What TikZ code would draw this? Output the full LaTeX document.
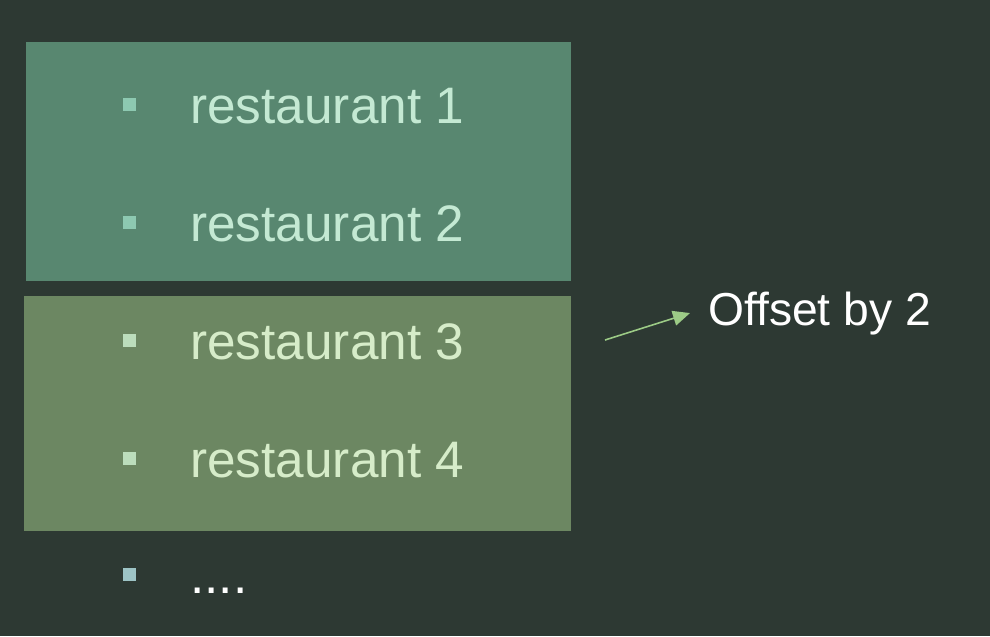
\documentclass[tikz,border=0pt]{standalone}
\usepackage{fontspec}
\setmainfont{Liberation Sans}
\usepackage{tikz}
\usetikzlibrary{arrows.meta, positioning, calc}

\definecolor{bgdark}{HTML}{2D3933}
\definecolor{topbox}{HTML}{588770}
\definecolor{lowbox}{HTML}{6C8762}
\definecolor{topbullet}{HTML}{8DC9B1}
\definecolor{toptext}{HTML}{C4E9D3}
\definecolor{lowbullet}{HTML}{BCDDBC}
\definecolor{lowtext}{HTML}{D6ECC9}
\definecolor{lastbullet}{HTML}{9DC4C6}
\definecolor{arrowgreen}{HTML}{9CCB86}

\begin{document}
\begin{tikzpicture}[
        x=0.02cm, y=-0.02cm,
        item/.style={anchor=base west, inner sep=0pt, font=\fontsize{29.2}{35}\selectfont},
        bullet/.style={rectangle, minimum size=0.26cm, inner sep=0pt},
        note/.style={anchor=base west, inner xsep=0.36cm, inner ysep=0pt, text=white, font=\fontsize{26.3}{31}\selectfont},
        arrow/.style={draw=arrowgreen, line width=0.9pt, -{Triangle[length=0.34cm, width=0.3cm]}}
    ]
        % Background
        \fill[bgdark] (0,0) rectangle (990,636);

        % Boxes
        \fill[topbox] (26,42) rectangle (571,281);
        \fill[lowbox] (24,296) rectangle (571,531);

        % Items
        \foreach \i/\yy/\bcol/\tcol in {1/123/topbullet/toptext, 2/241/topbullet/toptext,
                                        3/359/lowbullet/lowtext, 4/477/lowbullet/lowtext} {
            \node[bullet, fill=\bcol] (b\i) at (129,\yy-19) {};
            \node[item, text=\tcol] (r\i) at (190,\yy) {restaurant \i};
        }
        \node[bullet, fill=lastbullet] (b5) at (129,574) {};
        \node[item, text=white] (dots) at (190,593) {....};

        % Offset label
        \coordinate (tail) at (605,340);
        \node[note] (offset) at (690,325) {Offset by 2};
        \draw[arrow] (tail) -- (offset.west);
    \end{tikzpicture}
\end{document}
